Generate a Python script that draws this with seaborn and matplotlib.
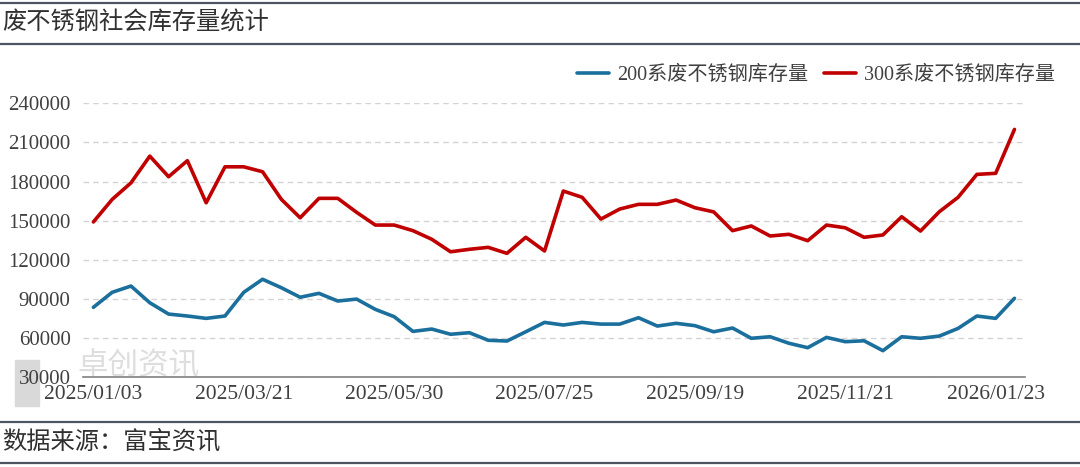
import pandas as pd
import matplotlib.pyplot as plt
import seaborn as sns
from matplotlib.lines import Line2D

# 数据（按图读取，单位：吨）
inv_200 = [83500, 95000, 99800, 87000, 78300, 76800, 75000, 76800, 95000, 105000,
           98500, 91200, 94200, 88300, 89800, 81900, 76300, 65000, 66800, 62800,
           64000, 58200, 57600, 64700, 71900, 69900, 71900, 70600, 70600, 75500,
           69100, 71200, 69400, 64700, 67600, 59700, 60900, 55900, 52500, 60400,
           57100, 57800, 50200, 60900, 59700, 61400, 67300, 76800, 75000, 90400]
inv_300 = [149000, 166300, 179000, 199500, 183700, 196000, 163700, 191300, 191300, 187500,
           166300, 152200, 167100, 167100, 156400, 146600, 146600, 142300, 135700, 126100,
           128000, 129500, 124900, 137200, 126700, 172700, 167900, 151200, 158900, 162500,
           162500, 165800, 159900, 156700, 142300, 145900, 138200, 139500, 134600, 146600,
           144500, 137200, 139000, 153000, 142000, 156800, 167900, 185500, 186300, 220000]
tick_labels = ['2025/01/03', '2025/03/21', '2025/05/30', '2025/07/25',
               '2025/09/19', '2025/11/21', '2026/01/23']
series_names = ['200系废不锈钢库存量', '300系废不锈钢库存量']
y_ticks = [30000, 60000, 90000, 120000, 150000, 180000, 210000, 240000]

idx = list(range(len(inv_200)))
df = pd.DataFrame({
    'idx': idx * 2,
    'value': inv_200 + inv_300,
    'series': [series_names[0]] * len(inv_200) + [series_names[1]] * len(inv_300),
})

sns.set_style('white')
plt.rcParams['font.family'] = ['Liberation Serif', 'Noto Sans CJK SC', 'DejaVu Sans']

fig = plt.figure(figsize=(10.8, 4.67), dpi=100)
ax = fig.add_axes([0.0769, 0.1927, 0.872, 0.586])
ax.set_zorder(2)

# 水印
fig.text(0.072, 0.218, '卓创资讯', fontsize=22, color='#dedede', family='Noto Sans CJK SC',
         ha='left', va='center', zorder=-1)
fig.patches.append(plt.Rectangle((0.014, 0.13), 0.022, 0.1, transform=fig.transFigure,
                                 color='#d9d9d9', zorder=-1))

sns.lineplot(data=df, x='idx', y='value', hue='series',
             palette=['#1b6f9c', '#c00000'], linewidth=2.6, ax=ax, legend=False)

ax.set_xlim(-0.55, len(idx) - 0.45)
ax.set_ylim(30000, 240000)
ax.set_yticks(y_ticks)
ax.set_yticklabels([str(v) for v in y_ticks])
ax.set_xticks(idx[::8])
ax.set_xticklabels(tick_labels)
ax.set_xlabel('')
ax.set_ylabel('')
ax.patch.set_alpha(0)

ax.grid(axis='y', color='#d3d3d3', linestyle=(0, (4, 3)), linewidth=1)
for s in ['top', 'right', 'left']:
    ax.spines[s].set_visible(False)
ax.spines['bottom'].set_color('#808080')
ax.spines['bottom'].set_linewidth(1.2)
ax.tick_params(axis='y', length=0, labelsize=15, labelcolor='#404040', pad=9)
ax.tick_params(axis='x', direction='inout', length=6, width=1, color='#808080',
               labelsize=15.5, labelcolor='#404040', pad=3)

handles = [Line2D([], [], color='#1b6f9c', lw=2.6), Line2D([], [], color='#c00000', lw=2.6)]
leg = fig.legend(handles, series_names, loc='center right', bbox_to_anchor=(0.994, 0.839),
                 ncol=2, frameon=False, fontsize=14.5, handlelength=1.6,
                 handletextpad=0.4, columnspacing=0.8)
for t in leg.get_texts():
    t.set_color('#404040')

# 标题与来源
for y in [0.9936, 0.9058, 0.0964, 0.0086]:
    fig.add_artist(Line2D([0, 1], [y, y], transform=fig.transFigure, color='#4d5562', lw=1.6))
fig.text(0.002, 0.951, '废不锈钢社会库存量统计', fontsize=17.5, color='#303030',
         ha='left', va='center')
fig.text(0.002, 0.055, '数据来源：富宝资讯', fontsize=17.5, color='#303030',
         ha='left', va='center')

fig.savefig('out.png', dpi=100)
